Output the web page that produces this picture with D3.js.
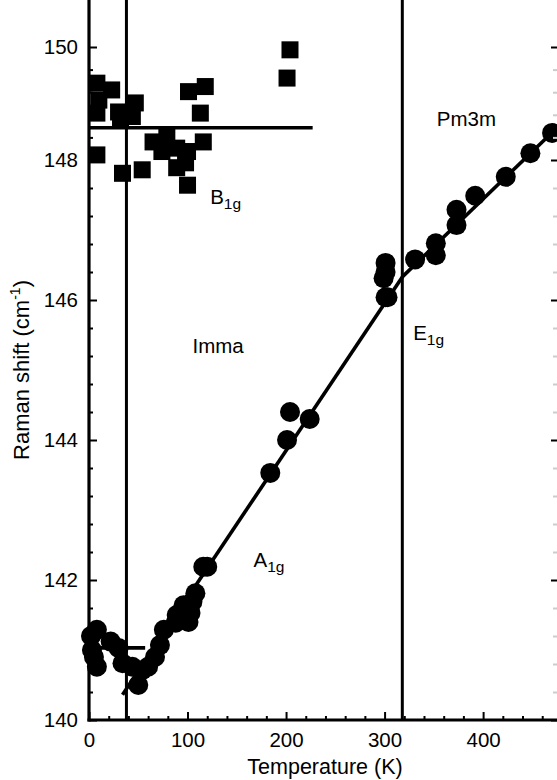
<!DOCTYPE html>
<html><head><meta charset="utf-8">
<script src="https://cdn.jsdelivr.net/npm/d3@7"></script>
<style>body{margin:0;background:#fff}svg{display:block}text{font-family:"Liberation Sans",Arial,sans-serif}</style>
</head><body>
<script>
// A1g / E1g soft mode (circles)
const a1gT = [8,3,2,5,8,22,30,34,44,50,54,60,67,72,76,88,89,96,101,103,105,108,116,120,184,201,204,224,301,301,299,301,303,331,352,352,373,373,392,423,448,470];
const a1gV = [141.29,141.0,141.2,140.9,140.76,141.12,141.03,140.81,140.76,140.5,140.71,140.76,140.9,141.07,141.29,141.39,141.5,141.64,141.4,141.53,141.69,141.81,142.19,142.19,143.53,144.0,144.4,144.3,146.53,146.4,146.31,146.04,146.04,146.58,146.81,146.64,147.29,147.07,147.49,147.76,148.12,148.48];
// B1g mode (squares)
const b1gT = [8,23,10,8,30,47,44,32,8,34,54,65,79,74,89,100,98,89,100,101,118,113,116,204,201];
const b1gV = [149.36,149.24,149.06,148.83,148.85,149.01,148.77,148.74,148.09,147.81,147.86,148.32,148.41,148.15,148.21,148.15,147.96,147.89,147.64,149.21,149.3,148.83,148.32,149.95,149.45];
// fit lines
const fitLowT = [0,57], fitLowV = [141.03,141.03];
const fitImmaT = [34,318], fitImmaV = [140.36,146.33];
const fitPmT = [318,475], fitPmV = [146.33,148.57];
const b1gFitT = [0,227], b1gFitV = [148.57,148.57];
// phase boundaries
const phaseT = [38,318];
// axis ticks
const xTicks = [0,100,200,300,400];
const yTicks = [140,142,144,146,148,150];
// annotations
const labels = [
  {main:"B", sub:"1g", T:123, v:147.37},
  {main:"Imma", sub:"", T:105, v:145.24},
  {main:"A", sub:"1g", T:167, v:142.19},
  {main:"E", sub:"1g", T:329, v:145.43},
  {main:"Pm3m", sub:"", T:353, v:148.6}
];

const W = 557, H = 780;
const svg = d3.select("body").append("svg").attr("width", W).attr("height", H);
const x = d3.scaleLinear().domain([0,475]).range([89,557]);
const y = d3.scaleLinear().domain([140,148,150]).range([720,160,47]);
const yTop = 0;

const line = d3.line().x(d=>x(d[0])).y(d=>y(d[1]));
const pairs = (a,b)=>a.map((t,i)=>[t,b[i]]);

// phase boundary lines
svg.selectAll(".phase").data(phaseT).join("line")
  .attr("x1",d=>x(d)).attr("x2",d=>x(d)).attr("y1",yTop).attr("y2",y(140))
  .attr("stroke","#000").attr("stroke-width",3);

// fit lines
[[fitLowT,fitLowV],[fitImmaT,fitImmaV],[fitPmT,fitPmV],[b1gFitT,b1gFitV]].forEach(([t,v])=>{
  svg.append("path").attr("d",line(pairs(t,v))).attr("fill","none")
    .attr("stroke","#000").attr("stroke-width",3.6);
});

// circles
svg.selectAll(".a1g").data(pairs(a1gT,a1gV)).join("circle")
  .attr("cx",d=>x(d[0])).attr("cy",d=>y(d[1])).attr("r",10).attr("fill","#000");
// squares
const s = 17;
svg.selectAll(".b1g").data(pairs(b1gT,b1gV)).join("rect")
  .attr("x",d=>x(d[0])-s/2).attr("y",d=>y(d[1])-s/2).attr("width",s).attr("height",s).attr("fill","#000");

// axes
const fs = "20.5px";
const gx = svg.append("g").attr("transform",`translate(0,${y(140)})`)
  .call(d3.axisBottom(x).tickValues(xTicks).tickSizeInner(-8).tickSizeOuter(0).tickPadding(12).tickFormat(d3.format("d")));
const gxm = svg.append("g").attr("transform",`translate(0,${y(140)})`)
  .call(d3.axisBottom(x).tickValues(d3.range(20,475,20).filter(v=>v%100)).tickSizeInner(-4).tickSizeOuter(0).tickFormat(""));
const gy = svg.append("g").attr("transform",`translate(${x(0)},0)`)
  .call(d3.axisLeft(y).tickValues(yTicks).tickSizeInner(-8).tickSizeOuter(0).tickPadding(11).tickFormat(d3.format("d")));
const minorY = d3.range(140.4,150,0.4).map(v=>+v.toFixed(1)).filter(v=>Math.abs(v/2-Math.round(v/2))>0.01);
const gym = svg.append("g").attr("transform",`translate(${x(0)},0)`)
  .call(d3.axisLeft(y).tickValues(minorY).tickSizeInner(-4).tickSizeOuter(0).tickFormat(""));
const gr = svg.append("g").attr("transform",`translate(${x(475)},0)`)
  .call(d3.axisRight(y).tickValues(yTicks).tickSizeInner(-6).tickSizeOuter(0).tickFormat(""));
const grm = svg.append("g").attr("transform",`translate(${x(475)},0)`)
  .call(d3.axisRight(y).tickValues(minorY).tickSizeInner(-4).tickSizeOuter(0).tickFormat(""));
grm.selectAll("line").attr("stroke","#ccc");
[gx,gxm,gy,gym,gr,grm].forEach(g=>{
  g.select(".domain").remove();
  g.selectAll("line").attr("stroke-width",2);
  g.selectAll("text").attr("font-size",fs).attr("fill","#000").style("font-family",'"Liberation Sans",Arial,sans-serif');
});
// axis lines
svg.append("line").attr("x1",x(0)).attr("x2",x(0)).attr("y1",yTop).attr("y2",y(140)+1.5)
  .attr("stroke","#000").attr("stroke-width",3.2);
svg.append("line").attr("x1",x(0)-1.5).attr("x2",W).attr("y1",y(140)).attr("y2",y(140))
  .attr("stroke","#000").attr("stroke-width",3.2);

// axis titles
svg.append("text").attr("x",(x(0)+W)/2+2).attr("y",774).attr("text-anchor","middle")
  .attr("font-size","21.5px").text("Temperature (K)");
const yt = svg.append("text").attr("transform",`translate(29,${(y(144)+y(146))/2}) rotate(-90)`)
  .attr("text-anchor","middle").attr("font-size","22px");
yt.append("tspan").text("Raman shift (cm");
yt.append("tspan").attr("font-size","14px").attr("dy","-9").text("-1");
yt.append("tspan").attr("dy","9").text(")");

// annotations
labels.forEach(l=>{
  const t = svg.append("text").attr("x",x(l.T)).attr("y",y(l.v)).attr("font-size",fs);
  t.append("tspan").text(l.main);
  if(l.sub) t.append("tspan").attr("font-size","15.5px").attr("dy","5").text(l.sub);
});
</script>
</body></html>
